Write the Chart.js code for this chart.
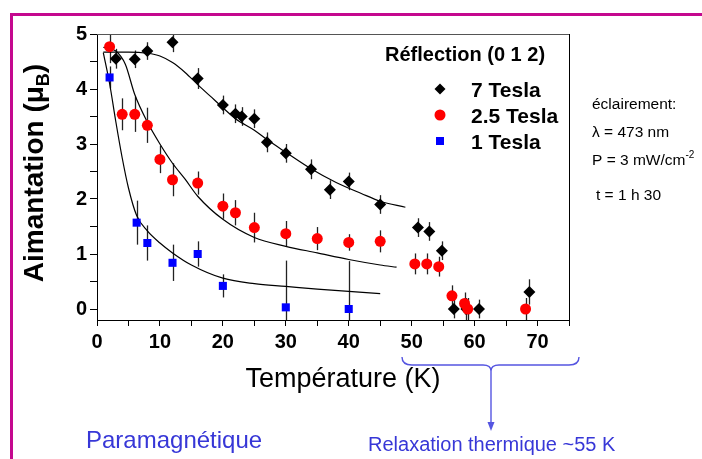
<!DOCTYPE html>
<html>
<head>
<meta charset="utf-8">
<script src="https://cdn.jsdelivr.net/npm/chart.js@4.4.1/dist/chart.umd.min.js"></script>
<style>
  html, body { margin: 0; padding: 0; background: #fff; }
</style>
</head>
<body>
<canvas id="aimChart" width="702" height="459"></canvas>
<script>
// data (temperature in K, magnetisation in muB, error half-length)
var temp7 = [3, 6, 8, 12, 16, 20, 22, 23, 25, 27, 30, 34, 37, 40, 45, 51, 52.8, 54.8, 56.7, 58.7, 60.7, 68.7];
var mag7  = [4.55, 4.54, 4.69, 4.85, 4.19, 3.71, 3.55, 3.50, 3.46, 3.03, 2.83, 2.54, 2.17, 2.32, 1.90, 1.48, 1.41, 1.06, 0.0, 0.0, 0.0, 0.31];
var err7  = [0.18, 0.16, 0.16, 0.18, 0.19, 0.17, 0.17, 0.17, 0.17, 0.18, 0.17, 0.18, 0.17, 0.16, 0.17, 0.17, 0.17, 0.17, 0.17, 0.2, 0.17, 0.23];

var temp25 = [2, 4, 6, 8, 10, 12, 16, 20, 22, 25, 30, 35, 40, 45, 50.5, 52.4, 54.3, 56.4, 58.4, 58.9, 68.1];
var mag25  = [4.77, 3.54, 3.54, 3.34, 2.72, 2.35, 2.29, 1.87, 1.75, 1.48, 1.37, 1.28, 1.21, 1.23, 0.82, 0.82, 0.77, 0.24, 0.10, 0.0, 0.0];
var err25  = [0.3, 0.29, 0.32, 0.32, 0.25, 0.3, 0.21, 0.23, 0.23, 0.27, 0.23, 0.21, 0.15, 0.2, 0.19, 0.19, 0.18, 0.19, 0.2, 0.2, 0.2];

var temp1 = [2, 6.3, 8, 12, 16, 20, 30, 40];
var mag1  = [4.21, 1.57, 1.20, 0.84, 1.00, 0.42, 0.03, 0.0];
var err1  = [0.2, 0.4, 0.32, 0.33, 0.23, 0.21, 0.85, 0.87];

// fitted curves, points
var fitTemp7 = [1, 5, 8, 10, 12, 14, 16, 18, 20, 22, 25, 27, 30, 34, 38, 42, 45, 49];
var fitMag7  = [4.67, 4.67, 4.65, 4.6, 4.48, 4.3, 4.08, 3.87, 3.66, 3.46, 3.25, 3.08, 2.85, 2.55, 2.3, 2.1, 1.96, 1.85];
var fitTemp25 = [1, 3, 4.5, 6, 8, 10, 12, 14, 16, 20, 25, 30, 35, 40, 45, 47.6];
var fitMag25  = [4.76, 4.69, 4.45, 3.9, 3.4, 3.0, 2.65, 2.36, 2.05, 1.63, 1.3, 1.14, 1.02, 0.9, 0.8, 0.76];
var fitTemp1 = [1, 2, 3, 4, 5, 6.3, 8, 10, 12, 15, 20, 25, 30, 35, 40, 45];
var fitMag1  = [4.66, 4.1, 3.4, 2.75, 2.2, 1.7, 1.42, 1.2, 1.02, 0.8, 0.56, 0.46, 0.41, 0.36, 0.32, 0.28];

var xTickLabels = [0, 10, 20, 30, 40, 50, 60, 70];
var yTickLabels = [0, 1, 2, 3, 4, 5];
var seriesNames = ['7 Tesla', '2.5 Tesla', '1 Tesla'];

var FONT = '"Liberation Sans", Arial, Helvetica, sans-serif';
var BLUE_TXT = 'rgb(55,55,215)';

function pairs(xs, ys) {
    return xs.map(function (x, i) { return { x: x, y: ys[i] }; });
}

function fitLine(xs, ys) {
    return {
        type: 'line',
        data: pairs(xs, ys),
        borderColor: '#000',
        borderWidth: 1.2,
        pointRadius: 0,
        fill: false,
        cubicInterpolationMode: 'monotone',
        order: 10
    };
}

var errorSets = [
    { t: temp7, m: mag7, e: err7 },
    { t: temp25, m: mag25, e: err25 },
    { t: temp1, m: mag1, e: err1 }
];

function text(ctx, s, x, y, font, color, align) {
    ctx.font = font;
    ctx.fillStyle = color || '#000';
    ctx.textAlign = align || 'left';
    ctx.textBaseline = 'alphabetic';
    ctx.fillText(s, x, y);
}

// everything around the plot: frame, error bars, legend, notes
var decor = {
    id: 'decor',
    beforeDraw: function (chart) {
        var ctx = chart.ctx;
        ctx.save();
        ctx.fillStyle = '#fff';
        ctx.fillRect(0, 0, chart.width, chart.height);
        ctx.fillStyle = '#c4088e';
        ctx.fillRect(10, 13, chart.width - 10, 3);
        ctx.fillRect(10, 13, 3, chart.height - 13);
        ctx.restore();
    },
    beforeDatasetsDraw: function (chart) {
        var ctx = chart.ctx, xs = chart.scales.x, ys = chart.scales.y, a = chart.chartArea;
        ctx.save();
        ctx.beginPath();
        ctx.rect(a.left, a.top, a.right - a.left, a.bottom - a.top);
        ctx.clip();
        ctx.strokeStyle = '#222';
        ctx.lineWidth = 1.3;
        errorSets.forEach(function (s) {
            s.t.forEach(function (t, i) {
                var px = Math.round(xs.getPixelForValue(t)) + 0.5;
                ctx.beginPath();
                ctx.moveTo(px, ys.getPixelForValue(s.m[i] + s.e[i]));
                ctx.lineTo(px, ys.getPixelForValue(s.m[i] - s.e[i]));
                ctx.stroke();
            });
        });
        ctx.restore();
    },
    afterDraw: function (chart) {
        var ctx = chart.ctx, a = chart.chartArea;
        ctx.save();

        // top and right edges of the box
        ctx.strokeStyle = '#555';
        ctx.lineWidth = 1;
        ctx.beginPath();
        ctx.moveTo(a.left, a.top + 0.5);
        ctx.lineTo(a.right + 0.5, a.top + 0.5);
        ctx.stroke();
        ctx.strokeStyle = '#000';
        ctx.beginPath();
        ctx.moveTo(a.right + 0.5, a.top);
        ctx.lineTo(a.right + 0.5, a.bottom);
        ctx.stroke();

        // legend
        text(ctx, 'Réflection (0 1 2)', 385, 61, 'bold 20px ' + FONT);
        var rows = [89, 115, 141];
        var mx = 440;
        ctx.fillStyle = '#000';
        ctx.beginPath();
        ctx.moveTo(mx, rows[0] - 5.5); ctx.lineTo(mx + 5.5, rows[0]);
        ctx.lineTo(mx, rows[0] + 5.5); ctx.lineTo(mx - 5.5, rows[0]);
        ctx.closePath(); ctx.fill();
        ctx.fillStyle = '#ff0000';
        ctx.beginPath(); ctx.arc(mx, rows[1], 5.5, 0, Math.PI * 2); ctx.fill();
        ctx.fillStyle = '#0000ff';
        ctx.fillRect(mx - 4, rows[2] - 4, 8, 8);
        seriesNames.forEach(function (n, i) {
            text(ctx, n, 471, rows[i] + 7.5, 'bold 21px ' + FONT);
        });

        // conditions of illumination
        var nf = '15.5px ' + FONT;
        text(ctx, 'éclairement:', 592, 109, nf);
        text(ctx, 'λ = 473 nm', 592, 137, nf);
        text(ctx, 'P = 3 mW/cm', 592, 165, nf);
        ctx.font = nf;
        var w = ctx.measureText('P = 3 mW/cm').width;
        text(ctx, '-2', 592 + w, 158, '10px ' + FONT);
        text(ctx, 't = 1 h 30', 596, 200, nf);

        // axis titles
        text(ctx, 'Température (K)', 343, 387, '27px ' + FONT, '#000', 'center');

        ctx.save();
        ctx.translate(33, 173);
        ctx.rotate(-Math.PI / 2);
        var big = 'bold 28px ' + FONT, small = 'bold 18px ' + FONT;
        ctx.font = big;
        var w1 = ctx.measureText('Aimantation (μ').width;
        var w3 = ctx.measureText(')').width;
        ctx.font = small;
        var w2 = ctx.measureText('B').width;
        var x0 = -(w1 + w2 + w3) / 2;
        text(ctx, 'Aimantation (μ', x0, 10, big);
        text(ctx, 'B', x0 + w1, 16, small);
        text(ctx, ')', x0 + w1 + w2, 10, big);
        ctx.restore();

        // brace under 50-70 and arrow
        ctx.strokeStyle = 'rgb(85,85,225)';
        ctx.fillStyle = 'rgb(85,85,225)';
        ctx.lineWidth = 1.4;
        var bl = 402, br = 579, bt = 357, bm = 365, tipX = 491, tipY = 371;
        ctx.beginPath();
        ctx.moveTo(bl, bt);
        ctx.quadraticCurveTo(bl, bm, bl + 10, bm);
        ctx.lineTo(tipX - 8, bm);
        ctx.quadraticCurveTo(tipX, bm, tipX, tipY);
        ctx.quadraticCurveTo(tipX, bm, tipX + 8, bm);
        ctx.lineTo(br - 10, bm);
        ctx.quadraticCurveTo(br, bm, br, bt);
        ctx.stroke();
        ctx.beginPath();
        ctx.moveTo(tipX, tipY);
        ctx.lineTo(tipX, 424);
        ctx.stroke();
        ctx.beginPath();
        ctx.moveTo(tipX - 3.5, 422);
        ctx.lineTo(tipX + 3.5, 422);
        ctx.lineTo(tipX, 431);
        ctx.closePath();
        ctx.fill();

        text(ctx, 'Paramagnétique', 86, 448, '24px ' + FONT, BLUE_TXT);
        text(ctx, 'Relaxation thermique ~55 K', 368, 451, '20px ' + FONT, BLUE_TXT);

        ctx.restore();
    }
};

var ctx = document.getElementById('aimChart').getContext('2d');

var data = {
    datasets: [
        {
            type: 'scatter',
            label: seriesNames[1],
            data: pairs(temp25, mag25),
            pointStyle: 'circle',
            pointRadius: 5.5,
            backgroundColor: '#ff0000',
            borderColor: '#ff0000',
            borderWidth: 0,
            order: 1
        },
        {
            type: 'scatter',
            label: seriesNames[0],
            data: pairs(temp7, mag7),
            pointStyle: 'rectRot',
            pointRadius: 6,
            backgroundColor: '#000',
            borderColor: '#000',
            borderWidth: 0,
            order: 2
        },
        {
            type: 'scatter',
            label: seriesNames[2],
            data: pairs(temp1, mag1),
            pointStyle: 'rect',
            pointRadius: 5.7,
            backgroundColor: '#0000ff',
            borderColor: '#0000ff',
            borderWidth: 0,
            order: 3
        },
        fitLine(fitTemp7, fitMag7),
        fitLine(fitTemp25, fitMag25),
        fitLine(fitTemp1, fitMag1)
    ]
};

var options = {
    responsive: false,
    animation: false,
    maintainAspectRatio: false,
    layout: { padding: { top: 34, right: 133, bottom: 0, left: 0 } },
    plugins: {
        legend: { display: false },
        tooltip: { enabled: false }
    },
    scales: {
        x: {
            type: 'linear',
            min: 0,
            max: 75,
            afterFit: function (s) { s.height = 139; },
            grid: { drawOnChartArea: false, tickLength: 6, color: '#000', tickWidth: 1 },
            border: { color: '#000', width: 1 },
            ticks: {
                stepSize: 5,
                autoSkip: false,
                maxRotation: 0,
                padding: 4,
                color: '#000',
                font: { family: FONT, size: 20, weight: 'bold' },
                callback: function (v) { return xTickLabels.indexOf(v) >= 0 ? String(v) : ''; }
            }
        },
        y: {
            type: 'linear',
            min: -0.2,
            max: 5,
            afterFit: function (s) { s.width = 97; },
            grid: { drawOnChartArea: false, tickLength: 7, color: '#000', tickWidth: 1 },
            border: { color: '#000', width: 1 },
            ticks: {
                stepSize: 0.5,
                includeBounds: false,
                autoSkip: false,
                padding: 3,
                color: '#000',
                font: { family: FONT, size: 20, weight: 'bold' },
                callback: function (v) { return yTickLabels.indexOf(v) >= 0 ? String(v) : ''; }
            }
        }
    }
};

new Chart(ctx, { data: data, options: options, plugins: [decor] });
</script>
</body>
</html>
